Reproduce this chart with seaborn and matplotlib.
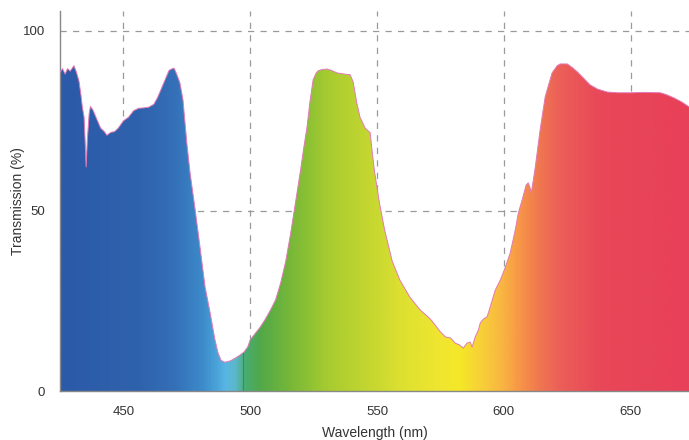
import numpy as np
import pandas as pd
import matplotlib
matplotlib.use("Agg")
import matplotlib.pyplot as plt
from matplotlib.colors import LinearSegmentedColormap
import seaborn as sns

# --- data ---
wavelength = [425, 426, 427, 428, 429, 430.5, 431.5, 432.5, 433.3, 433.8, 434.5, 435.0, 435.3, 435.8,
              436.5, 437, 438, 439.5, 441, 442.5, 443.5, 445, 446.5, 448, 450, 452, 454, 456, 458, 460,
              462, 463.5, 465, 466.5, 468, 469, 470, 471, 472.3, 473.5, 475, 476.3, 478.3, 480.2, 482.2,
              484.2, 486.1, 487.3, 488.5, 490, 491.5, 492.8, 494.5, 496, 497.5, 499, 500, 502, 504, 506,
              508, 510, 512, 514, 516, 518, 520, 521, 522.4, 523.5, 524.8, 526, 526.8, 528, 530.3, 532,
              534.3, 537, 539.4, 540.6, 542, 543.3, 545.3, 547.3, 548, 549, 551, 553, 556, 559, 563, 567,
              571, 575, 577, 579, 580.8, 582.5, 584, 585.5, 586.7, 587.5, 588.7, 590, 590.7, 592, 593.4,
              594.6, 596.6, 598.6, 600.5, 602.5, 604.5, 605.7, 607.2, 608.8, 609.6, 610.3, 610.8, 611.5,
              612.4, 614.3, 616.3, 619, 621, 622.2, 625, 627, 629, 631.5, 634, 637, 640.8, 645, 650, 655,
              661.7, 664, 667, 670, 673]
transmission = [88.5, 89.5, 88, 89.5, 88.8, 90.3, 88.5, 86, 82, 78.9, 76, 68, 62.2, 70,
                77, 79, 78, 75.5, 73, 72, 71, 71.8, 72, 73, 75, 76, 77.8, 78.5, 78.6, 78.8,
                79.6, 81.5, 84, 86.5, 89, 89.4, 89.6, 88, 85.5, 80.8, 68.9, 60.5, 50.3, 40, 28.9,
                21.7, 14.2, 10.6, 8.5, 8.0, 8.2, 8.6, 9.3, 10.0, 10.8, 12.2, 14.2, 16, 17.8, 20,
                22.5, 25.3, 30, 36, 44, 53, 62, 67, 73.3, 80, 86.4, 88.3, 88.9, 89.2, 89.4, 89,
                88.3, 88, 87.8, 85.8, 80, 76, 73, 71.7, 67, 61, 52, 44.7, 36, 30.8, 26, 22.5,
                20, 16.4, 15, 14.7, 13.3, 12.8, 11.9, 13.3, 13.6, 12.2, 15, 17, 18.9, 20, 20.6,
                23.3, 28, 30.8, 34.2, 38.3, 44.7, 49.4, 53, 57.2, 57.8, 56.5, 55, 58,
                62.2, 72.5, 81.7, 88.3, 90.3, 90.8, 90.8, 89.8, 88.6, 86.8, 85, 83.8, 83, 82.8, 82.8, 82.9,
                82.8, 82.3, 81.4, 80.3, 78.9]

x_ticks = [450, 500, 550, 600, 650]
y_ticks = [0, 50, 100]

# colour stops of the spectral fill (wavelength -> colour)
stop_wl = [425, 456, 470, 480, 486, 490, 494, 498, 504, 516, 531, 549, 559, 575, 583, 591, 599, 606, 614,
           622, 638, 673]
stop_col = ["#2b5aa8", "#2f62ad", "#3470b8", "#3c88c8", "#48a0d8", "#58b6e4", "#5cb8c8", "#48ac70",
            "#52a848", "#78b838", "#a8cc30", "#c8d830", "#dce030", "#f0e630", "#f4e828", "#f8d038",
            "#f8b840", "#f89848", "#f07850", "#ec6058", "#e84858", "#e84058"]

df = pd.DataFrame({"Wavelength": wavelength, "Transmission": transmission})

sns.set_style("white")
plt.rcParams["font.family"] = ["Liberation Sans", "DejaVu Sans"]

fig = plt.figure(figsize=(6.89, 4.40), dpi=100)
ax = fig.add_axes([60 / 689, 1 - 391 / 440, 1 - 60 / 689, (391 - 11) / 440])

xmin, xmax, ymin, ymax = 425, 673, 0, 105.5
ax.set_xlim(xmin, xmax)
ax.set_ylim(ymin, ymax)

# gridlines (behind the fill)
for xv in x_ticks:
    ax.axvline(xv, color="#9a9a9a", lw=0.9, ls=(0, (5, 5)), zorder=0.5)
for yv in [50, 100]:
    ax.axhline(yv, color="#9a9a9a", lw=0.9, ls=(0, (5, 5)), zorder=0.5)

# spectral gradient clipped to the area under the curve
span = xmax - xmin
cmap = LinearSegmentedColormap.from_list(
    "spec", [((w - xmin) / span, c) for w, c in zip(stop_wl, stop_col)])
grad = np.linspace(0, 1, 1000)[None, :]
im = ax.imshow(grad, cmap=cmap, aspect="auto", extent=[xmin, xmax, ymin, ymax],
               origin="lower", zorder=1, interpolation="bilinear")
poly = ax.fill_between(df["Wavelength"], 0, df["Transmission"], color="none", lw=0)
clip = poly.get_paths()[0]
im.set_clip_path(clip, transform=ax.transData)

# thin dark line in the fill near 497 nm
xl = 497.3
ax.vlines(xl, 0, np.interp(xl, wavelength, transmission), color="#3d8a5c", lw=0.8, zorder=2)

# pink outline of the curve
sns.lineplot(data=df, x="Wavelength", y="Transmission", ax=ax, color="#e27ab8", lw=0.7, zorder=3)

ax.set_xticks(x_ticks)
ax.set_yticks(y_ticks)
ax.tick_params(axis="both", direction="out", length=4, width=0.9, colors="#777777",
               labelcolor="#333333", labelsize=9.5)
ax.tick_params(axis="y", length=5, pad=6)
ax.tick_params(axis="x", pad=7)

for s in ["top", "right"]:
    ax.spines[s].set_visible(False)
for s in ["left", "bottom"]:
    ax.spines[s].set_color("#888888")
    ax.spines[s].set_linewidth(1.0)

ax.set_xlabel("Wavelength (nm)", fontsize=10, color="#333333")
ax.set_ylabel("Transmission (%)", fontsize=10, color="#333333")
ax.xaxis.set_label_coords(0.5, -0.093)
ax.yaxis.set_label_coords(-0.055, 0.5)

fig.savefig("out.png", dpi=100)
